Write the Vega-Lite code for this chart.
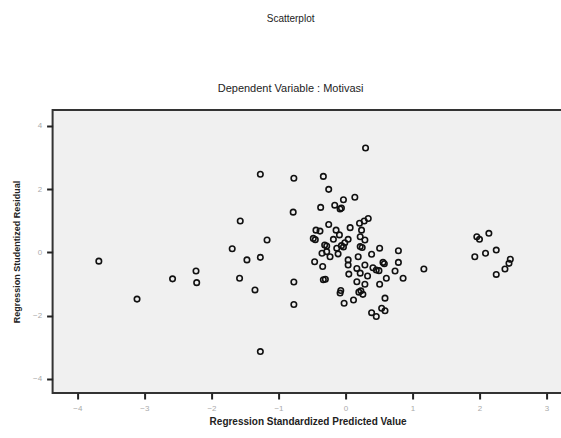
{
  "$schema": "https://vega.github.io/schema/vega-lite/v6.json",
  "autosize": {"type": "none"},
  "width": 510,
  "height": 283,
  "padding": {"left": 52.6, "top": 110, "right": 0, "bottom": 45},
  "background": "white",
  "title": {
    "text": "Scatterplot",
    "subtitle": "Dependent Variable : Motivasi",
    "anchor": "middle",
    "frame": "group",
    "dx": -17,
    "font": "Liberation Sans",
    "fontSize": 10,
    "fontWeight": "normal",
    "color": "#222",
    "subtitleFont": "Liberation Sans",
    "subtitleFontSize": 11,
    "subtitleColor": "#222",
    "subtitlePadding": 59,
    "offset": 16
  },
  "config": {
    "view": {"fill": "#f0f0f0", "stroke": "#333", "strokeWidth": 2},
    "axis": {
      "grid": false,
      "domain": false,
      "tickColor": "#222",
      "tickSize": 6,
      "tickWidth": 2,
      "labelColor": "#aaa",
      "labelFont": "Liberation Sans",
      "labelFontSize": 8,
      "titleFont": "Liberation Sans",
      "titleFontWeight": "bold",
      "titleColor": "#222"
    }
  },
  "data": {
    "values": [
      {"pred": -3.68, "resid": -0.28},
      {"pred": -3.11, "resid": -1.48},
      {"pred": -2.58, "resid": -0.84},
      {"pred": -2.23, "resid": -0.59},
      {"pred": -2.22, "resid": -0.96},
      {"pred": -1.69, "resid": 0.11},
      {"pred": -1.57, "resid": 0.99},
      {"pred": -1.58, "resid": -0.82},
      {"pred": -1.47, "resid": -0.24},
      {"pred": -1.35, "resid": -1.19},
      {"pred": -1.27, "resid": 2.47},
      {"pred": -1.27, "resid": -0.16},
      {"pred": -1.17, "resid": 0.39},
      {"pred": -1.27, "resid": -3.14},
      {"pred": -0.77, "resid": 2.34},
      {"pred": -0.78, "resid": 1.27},
      {"pred": -0.77, "resid": -0.94},
      {"pred": -0.77, "resid": -1.65},
      {"pred": 0.30, "resid": 3.30},
      {"pred": -0.33, "resid": 2.40},
      {"pred": -0.25, "resid": 1.99},
      {"pred": -0.03, "resid": 1.66},
      {"pred": 0.14, "resid": 1.74},
      {"pred": -0.37, "resid": 1.42},
      {"pred": -0.16, "resid": 1.49},
      {"pred": -0.08, "resid": 1.37},
      {"pred": -0.06, "resid": 1.40},
      {"pred": 0.34, "resid": 1.07},
      {"pred": 0.21, "resid": 0.92},
      {"pred": 0.28, "resid": 0.99},
      {"pred": -0.25, "resid": 0.88},
      {"pred": 0.07, "resid": 0.78},
      {"pred": -0.44, "resid": 0.70},
      {"pred": -0.38, "resid": 0.67},
      {"pred": -0.14, "resid": 0.70},
      {"pred": -0.09, "resid": 0.55},
      {"pred": 0.22, "resid": 0.49},
      {"pred": 0.29, "resid": 0.39},
      {"pred": -0.48, "resid": 0.44},
      {"pred": -0.45, "resid": 0.40},
      {"pred": -0.18, "resid": 0.41},
      {"pred": 0.04, "resid": 0.41},
      {"pred": -0.31, "resid": 0.23},
      {"pred": -0.28, "resid": 0.20},
      {"pred": -0.06, "resid": 0.21},
      {"pred": -0.03, "resid": 0.17},
      {"pred": 0.22, "resid": 0.18},
      {"pred": 0.25, "resid": 0.15},
      {"pred": 0.51, "resid": 0.13},
      {"pred": 0.79, "resid": 0.05},
      {"pred": -0.35, "resid": -0.03},
      {"pred": -0.23, "resid": -0.14},
      {"pred": -0.11, "resid": -0.05},
      {"pred": 0.04, "resid": -0.24},
      {"pred": 0.19, "resid": -0.14},
      {"pred": 0.39, "resid": -0.06},
      {"pred": -0.46, "resid": -0.30},
      {"pred": -0.34, "resid": -0.45},
      {"pred": 0.17, "resid": -0.51},
      {"pred": 0.41, "resid": -0.49},
      {"pred": 0.56, "resid": -0.32},
      {"pred": 0.58, "resid": -0.36},
      {"pred": 0.79, "resid": -0.32},
      {"pred": 0.50, "resid": -0.58},
      {"pred": 0.61, "resid": -0.82},
      {"pred": 0.74, "resid": -0.59},
      {"pred": 0.86, "resid": -0.82},
      {"pred": 1.17, "resid": -0.53},
      {"pred": -0.33, "resid": -0.87},
      {"pred": -0.30, "resid": -0.85},
      {"pred": 0.05, "resid": -0.69},
      {"pred": 0.22, "resid": -0.66},
      {"pred": 0.33, "resid": -0.75},
      {"pred": 0.29, "resid": -1.01},
      {"pred": 0.51, "resid": -1.01},
      {"pred": -0.07, "resid": -1.21},
      {"pred": 0.20, "resid": -1.26},
      {"pred": 0.23, "resid": -1.22},
      {"pred": 0.26, "resid": -1.33},
      {"pred": 0.59, "resid": -1.45},
      {"pred": -0.02, "resid": -1.61},
      {"pred": 0.12, "resid": -1.51},
      {"pred": 0.39, "resid": -1.91},
      {"pred": 0.46, "resid": -2.03},
      {"pred": 0.54, "resid": -1.77},
      {"pred": 0.59, "resid": -1.85},
      {"pred": -0.01, "resid": 0.30},
      {"pred": -0.13, "resid": 0.13},
      {"pred": 0.04, "resid": -0.40},
      {"pred": -0.28, "resid": 0.02},
      {"pred": 0.46, "resid": -0.56},
      {"pred": 0.24, "resid": 0.70},
      {"pred": 0.29, "resid": -0.40},
      {"pred": 0.17, "resid": -0.93},
      {"pred": -0.08, "resid": -1.29},
      {"pred": 1.96, "resid": 0.49},
      {"pred": 2.00, "resid": 0.41},
      {"pred": 2.14, "resid": 0.60},
      {"pred": 1.93, "resid": -0.14},
      {"pred": 2.09, "resid": -0.03},
      {"pred": 2.25, "resid": 0.07},
      {"pred": 2.46, "resid": -0.22},
      {"pred": 2.44, "resid": -0.35},
      {"pred": 2.38, "resid": -0.53},
      {"pred": 2.25, "resid": -0.70}
    ]
  },
  "mark": {"type": "point", "shape": "circle", "filled": false, "stroke": "#111", "strokeWidth": 1.6, "size": 30, "opacity": 1},
  "encoding": {
    "x": {
      "field": "pred",
      "type": "quantitative",
      "scale": {"domain": [-4.37, 3.24], "nice": false, "zero": false},
      "axis": {"values": [-4, -3, -2, -1, 0, 1, 2, 3], "title": "Regression Standardized Predicted Value", "titleFontSize": 10, "titlePadding": 4, "labelPadding": 6}
    },
    "y": {
      "field": "resid",
      "type": "quantitative",
      "scale": {"domain": [-4.45, 4.5], "nice": false, "zero": false},
      "axis": {"values": [-4, -2, 0, 2, 4], "title": "Regression Studentized Residual", "titleFontSize": 9, "titlePadding": 11, "labelPadding": 5}
    }
  }
}
